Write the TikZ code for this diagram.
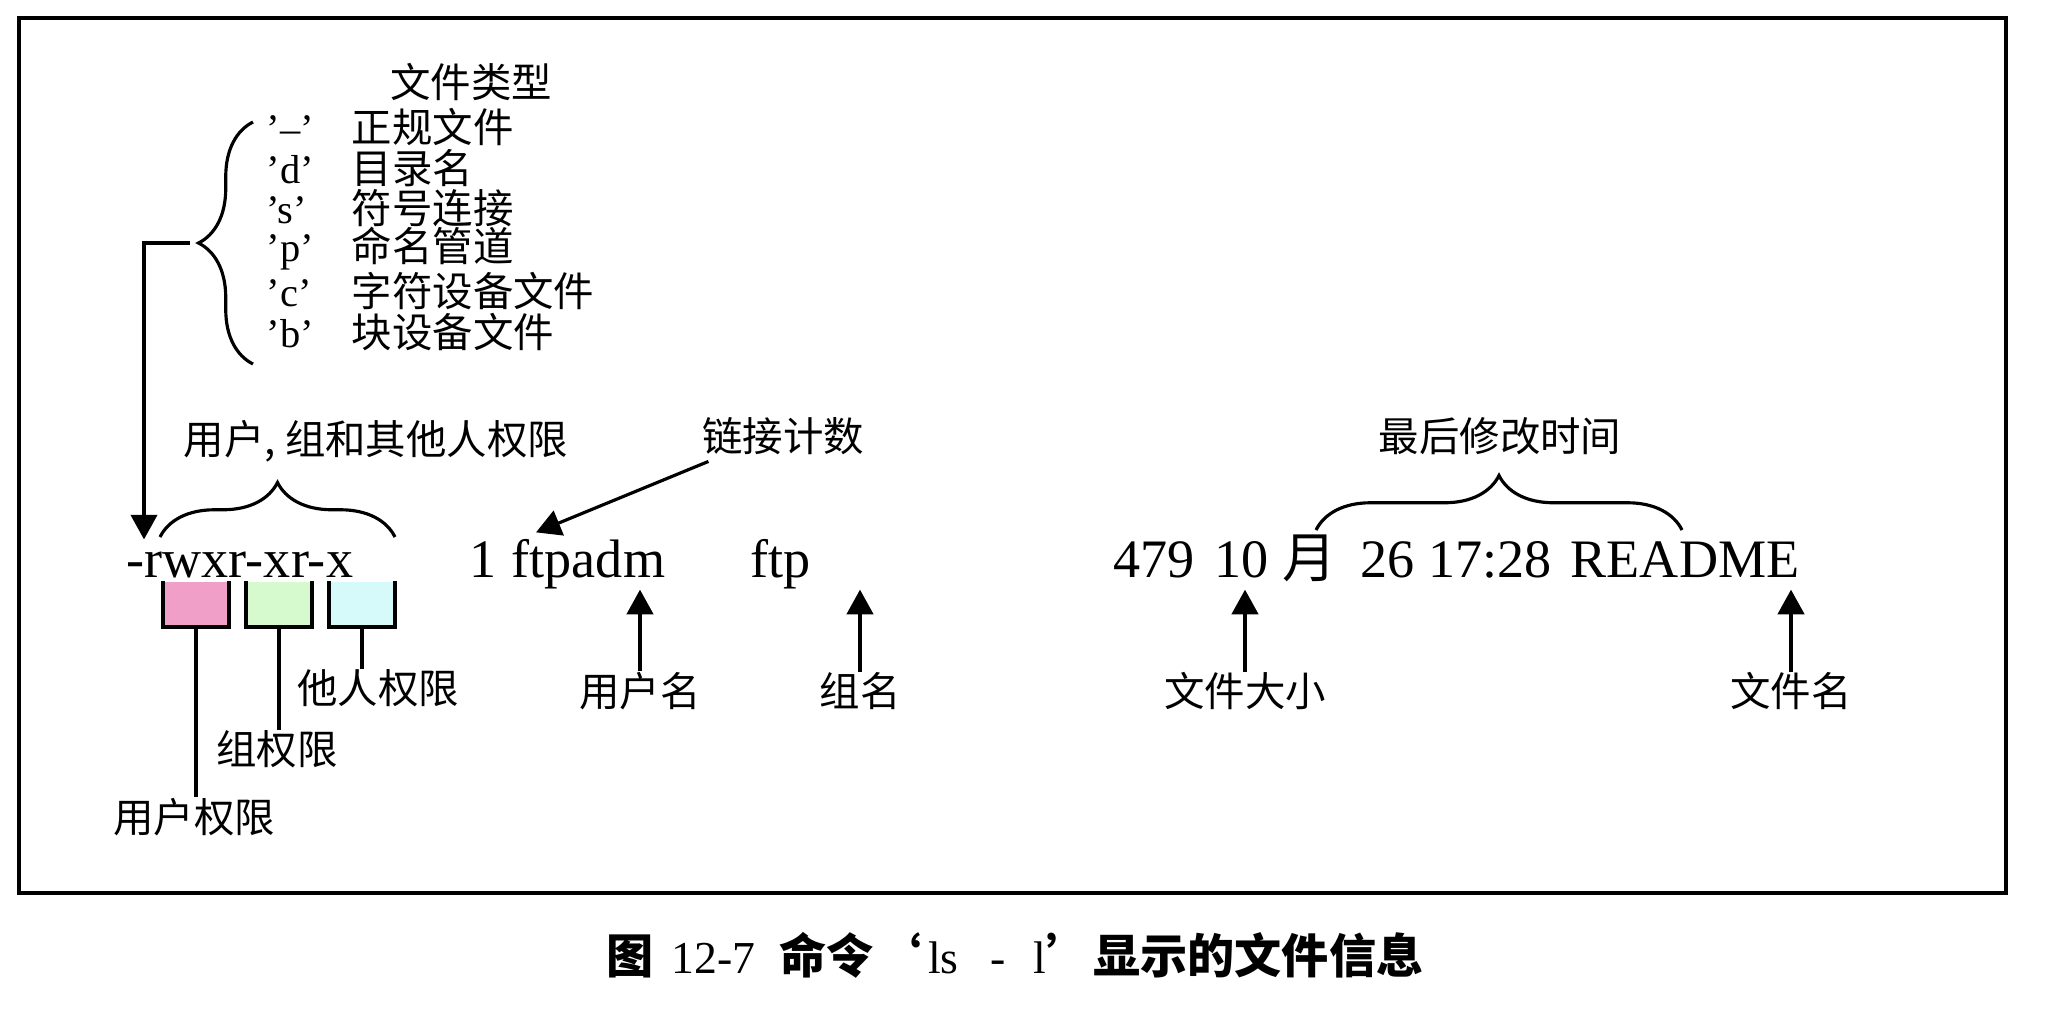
\documentclass[tikz,border=0pt]{standalone}
\usepackage{fontspec}
\setmainfont{Liberation Serif}
\newfontfamily\cjk{Noto Sans CJK SC}
\usetikzlibrary{arrows.meta,decorations.pathreplacing}

\definecolor{upink}{RGB}{240,160,200}
\definecolor{ugreen}{RGB}{214,250,206}
\definecolor{ucyan}{RGB}{214,250,250}

\newcommand{\caplat}{\mdseries\rmfamily\fontsize{13pt}{15pt}\selectfont}

\tikzset{
    tok/.style={font=\fontsize{15.4pt}{18pt}\selectfont, inner sep=0pt, anchor=base west,
        text height=10.5pt, text depth=3.4pt},
    lbl/.style={font=\cjk\fontsize{11.5pt}{13pt}\selectfont, inner sep=0pt},
    ftrow/.style={font=\fontsize{11.5pt}{13pt}\selectfont, inner sep=0pt, anchor=west},
    arr/.style={line width=0.9pt, -{Triangle[length=7pt,width=7.5pt]}},
    brc/.style={decorate, decoration={brace, amplitude=15.5pt}, line width=0.9pt},
    permbox/.style={minimum width=0.65cm, minimum height=0.44cm, inner sep=0pt},
    boxside/.style={line width=1.1pt}
}

\begin{document}
\begin{tikzpicture}[x=0.01cm, y=-0.01cm]
    \useasboundingbox (0,0) rectangle (2052,1008);
    % Draw the frame
    \draw[line width=1.3pt] (19,18) rectangle (2006,893);

    % The ls -l line
    \node[tok] (perm) at (126,577) {-rwxr-xr-x};
    \node[tok] (lnks) at (469,577) {1};
    \node[tok] (own) at (511,577) {ftpadm};
    \node[tok] (grp) at (750,577) {ftp};
    \node[tok] (fsz) at (1113,577) {479};
    \node[tok] (mon) at (1214,577) {10 {\cjk 月}};
    \node[tok] (clk) at (1360,577) {26 17:28};
    \node[tok] (fnm) at (1570,577) {README};

    % File type list and its brace
    \node[lbl] (ftype) at (471,82) {文件类型};
    \node[ftrow] (treg) at (266,127) {\makebox[.85cm][l]{’–’}{\cjk 正规文件}};
    \node[ftrow] (tdir) at (266,168) {\makebox[.85cm][l]{’d’}{\cjk 目录名}};
    \node[ftrow] (tsym) at (266,208) {\makebox[.85cm][l]{’s’}{\cjk 符号连接}};
    \node[ftrow] (tpip) at (266,249) {\makebox[.85cm][l]{’p’}{\cjk 命名管道}};
    \node[ftrow] (tchr) at (266,291) {\makebox[.85cm][l]{’c’}{\cjk 字符设备文件}};
    \node[ftrow] (tblk) at (266,332) {\makebox[.85cm][l]{’b’}{\cjk 块设备文件}};
    \draw[brc] (253,364) -- (253,122);
    \coordinate (fttip) at (190,243);
    \draw[arr] (fttip) -| ([xshift=.18cm]perm.north west);

    % Permission brace and the three boxes
    \draw[brc] (160,537) -- (395,537);
    \node[lbl] (rwxlbl) at (376,441) {用户, 组和其他人权限};

    \node[permbox, fill=upink] (ubox) at (196,604) {};
    \node[permbox, fill=ugreen] (gbox) at (279,604) {};
    \node[permbox, fill=ucyan] (obox) at (362,604) {};
    \draw[boxside] (ubox.north west) |- (ubox.south east) -- (ubox.north east);
    \draw[boxside] (gbox.north west) |- (gbox.south east) -- (gbox.north east);
    \draw[boxside] (obox.north west) |- (obox.south east) -- (obox.north east);

    \node[lbl] (uperm) at (194,817) {用户权限};
    \node[lbl] (gperm) at (277,749) {组权限};
    \node[lbl] (operm) at (378,688) {他人权限};
    \draw[boxside] (ubox.south) -- (ubox.south |- uperm.north);
    \draw[boxside] (gbox.south) -- (gbox.south |- gperm.north);
    \draw[boxside] (obox.south) -- (obox.south |- operm.north);

    % Link count
    \node[lbl] (lnk) at (783,436) {链接计数};
    \draw[arr] ([xshift=.07cm,yshift=-.06cm]lnk.south west) -- ([xshift=.25cm,yshift=.07cm]own.north west);

    % Owner and group
    \node[lbl] (uname) at (640,691) {用户名};
    \node[lbl] (gname) at (860,691) {组名};
    \draw[arr] (uname.north) -- (uname.north |- own.south);
    \draw[arr] (gname.north) -- (gname.north |- grp.south);

    % Size, time and file name
    \node[lbl] (fszlbl) at (1245,691) {文件大小};
    \node[lbl] (fnmlbl) at (1791,691) {文件名};
    \draw[arr] (fszlbl.north) -- (fszlbl.north |- mon.south);
    \draw[arr] (fnmlbl.north) -- (fnmlbl.north |- fnm.south);
    \draw[brc] (1316,530) -- (1682,530);
    \node[lbl] (mtime) at (1500,436) {最后修改时间};

    % Caption
    \node[font=\cjk\bfseries\fontsize{13.4pt}{16pt}\selectfont, inner sep=0pt] (cap) at (1015,955)
        {图\hspace{5pt}{\caplat 12-7}\hspace{7pt}命令‘{\caplat\hspace{2pt}ls\hspace{9pt}-\hspace{8pt}l}’显示的文件信息};
\end{tikzpicture}
\end{document}
